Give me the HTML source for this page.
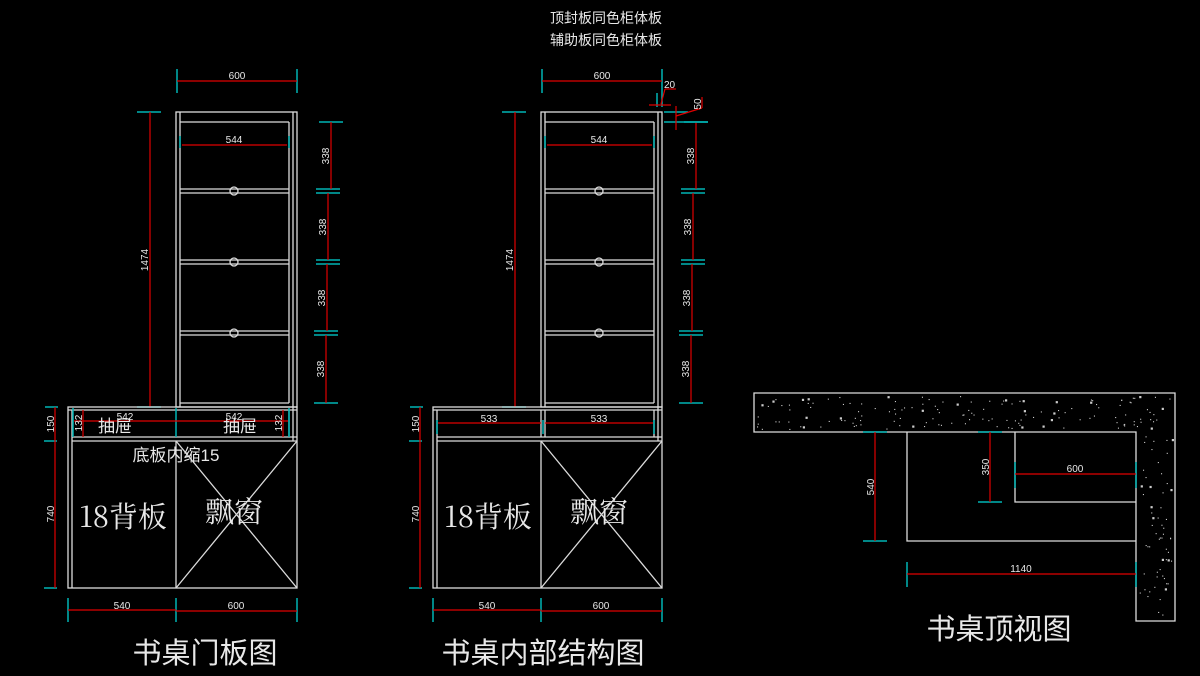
<!DOCTYPE html>
<html><head><meta charset="utf-8"><style>
html,body{margin:0;padding:0;background:#000;width:1200px;height:676px;overflow:hidden}
svg{display:block}
text{font-family:"Liberation Sans","Noto Sans CJK SC",sans-serif;fill:#e8e8e8}
.w{stroke:#dcdcdc;stroke-width:1.3;fill:none}
.r{stroke:#e00000;stroke-width:1.2;fill:none}
.c{stroke:#00b4b4;stroke-width:1.5;fill:none}
.d{font-size:10px}
.cj{font-family:"Noto Serif CJK SC","Liberation Serif",serif}
</style></head><body>
<svg id="s" width="1200" height="676" viewBox="0 0 1200 676" xmlns="http://www.w3.org/2000/svg">
<defs>
<g id="upper">
 <line class="c" x1="177" y1="69" x2="177" y2="93"/><line class="c" x1="297" y1="69" x2="297" y2="93"/>
 <line class="r" x1="177" y1="81" x2="297" y2="81"/>
 <text class="d" x="237" y="79" text-anchor="middle">600</text>
 <rect class="w" x="176" y="112" width="121" height="295"/>
 <line class="w" x1="180" y1="112" x2="180" y2="407"/>
 <line class="w" x1="289" y1="122" x2="289" y2="403"/>
 <line class="w" x1="293" y1="112" x2="293" y2="407"/>
 <line class="w" x1="180" y1="122" x2="289" y2="122"/>
 <line class="w" x1="180" y1="189" x2="289" y2="189"/><line class="w" x1="180" y1="193" x2="289" y2="193"/>
 <line class="w" x1="180" y1="260" x2="289" y2="260"/><line class="w" x1="180" y1="264" x2="289" y2="264"/>
 <line class="w" x1="180" y1="331" x2="289" y2="331"/><line class="w" x1="180" y1="335" x2="289" y2="335"/>
 <line class="w" x1="180" y1="403" x2="289" y2="403"/>
 <circle class="w" cx="234" cy="191" r="4"/><circle class="w" cx="234" cy="262" r="4"/><circle class="w" cx="234" cy="333" r="4"/>
 <line class="c" x1="180" y1="136" x2="180" y2="148"/><line class="c" x1="289" y1="136" x2="289" y2="148"/>
 <line class="r" x1="182" y1="145" x2="287" y2="145"/>
 <text class="d" x="234" y="143" text-anchor="middle">544</text>
 <line class="c" x1="137" y1="112" x2="161" y2="112"/><line class="c" x1="137" y1="407" x2="161" y2="407"/>
 <line class="r" x1="150" y1="112" x2="150" y2="407"/>
 <text class="d" transform="translate(148,260) rotate(-90)" text-anchor="middle">1474</text>
 <line class="c" x1="319" y1="122" x2="343" y2="122"/>
 <line class="c" x1="316" y1="189" x2="340" y2="189"/><line class="c" x1="316" y1="193" x2="340" y2="193"/>
 <line class="c" x1="316" y1="260" x2="340" y2="260"/><line class="c" x1="316" y1="264" x2="340" y2="264"/>
 <line class="c" x1="314" y1="331" x2="338" y2="331"/><line class="c" x1="314" y1="335" x2="338" y2="335"/>
 <line class="c" x1="314" y1="403" x2="338" y2="403"/>
 <line class="r" x1="331" y1="122" x2="331" y2="189"/>
 <line class="r" x1="328" y1="193" x2="328" y2="260"/>
 <line class="r" x1="327" y1="264" x2="327" y2="331"/>
 <line class="r" x1="326" y1="335" x2="326" y2="403"/>
 <text class="d" transform="translate(329,156) rotate(-90)" text-anchor="middle">338</text>
 <text class="d" transform="translate(326,227) rotate(-90)" text-anchor="middle">338</text>
 <text class="d" transform="translate(325,298) rotate(-90)" text-anchor="middle">338</text>
 <text class="d" transform="translate(324,369) rotate(-90)" text-anchor="middle">338</text>
</g>
<g id="lower">
 <rect class="w" x="68" y="407" width="229" height="181"/>
 <line class="w" x1="68" y1="410" x2="297" y2="410"/>
 <line class="w" x1="72" y1="410" x2="72" y2="588"/>
 <line class="w" x1="72" y1="437" x2="297" y2="437"/>
 <line class="w" x1="72" y1="441" x2="297" y2="441"/>
 <line class="w" x1="176" y1="441" x2="176" y2="588"/>
 <line class="w" x1="176" y1="441" x2="297" y2="588"/><line class="w" x1="297" y1="441" x2="176" y2="588"/>
 <line class="w" x1="289" y1="410" x2="289" y2="437"/><line class="w" x1="293" y1="407" x2="293" y2="441"/>
 <line class="c" x1="45" y1="407" x2="58" y2="407"/><line class="c" x1="44" y1="441" x2="57" y2="441"/><line class="c" x1="44" y1="588" x2="57" y2="588"/>
 <line class="r" x1="55" y1="407" x2="55" y2="441"/><line class="r" x1="55" y1="441" x2="55" y2="588"/>
 <text class="d" transform="translate(54,424) rotate(-90)" text-anchor="middle">150</text>
 <text class="d" transform="translate(54,514) rotate(-90)" text-anchor="middle">740</text>
 <line class="c" x1="68" y1="598" x2="68" y2="622"/><line class="c" x1="176" y1="598" x2="176" y2="622"/><line class="c" x1="297" y1="598" x2="297" y2="622"/>
 <line class="r" x1="68" y1="610" x2="176" y2="610"/><line class="r" x1="176" y1="611" x2="297" y2="611"/>
 <text class="d" x="122" y="609" text-anchor="middle">540</text>
 <text class="d" x="236" y="609" text-anchor="middle">600</text>
 <text class="cj" x="123" y="527" font-size="29" text-anchor="middle">18背板</text>
 <text class="cj" x="234" y="522" font-size="29" text-anchor="middle">飘窗</text>
</g>
</defs>

<use href="#upper"/>
<use href="#lower"/>
<line class="c" x1="73" y1="408" x2="73" y2="437"/><line class="c" x1="176" y1="408" x2="176" y2="437"/><line class="c" x1="289" y1="408" x2="289" y2="437"/>
<line class="r" x1="74" y1="421" x2="176" y2="421"/><line class="r" x1="176" y1="421" x2="288" y2="421"/>
<line class="r" x1="83" y1="410" x2="83" y2="437"/><line class="r" x1="283" y1="410" x2="283" y2="437"/>
<text class="d" x="125" y="420" text-anchor="middle">542</text>
<text class="d" x="234" y="420" text-anchor="middle">542</text>
<text class="d" transform="translate(82,423) rotate(-90)" text-anchor="middle">132</text>
<text class="d" transform="translate(282,423) rotate(-90)" text-anchor="middle">132</text>
<text x="115" y="432" font-size="17" text-anchor="middle">抽屉</text>
<text x="240" y="432" font-size="17" text-anchor="middle">抽屉</text>
<text x="176" y="461" font-size="17" text-anchor="middle">底板内缩15</text>
<text x="205" y="663" font-size="29" text-anchor="middle">书桌门板图</text>

<g transform="translate(365,0)">
<use href="#upper"/>
<use href="#lower"/>
<line class="w" x1="176" y1="410" x2="176" y2="437"/><line class="w" x1="180" y1="410" x2="180" y2="437"/>
<line class="c" x1="72" y1="420" x2="72" y2="434"/><line class="c" x1="178" y1="420" x2="178" y2="434"/><line class="c" x1="289" y1="420" x2="289" y2="434"/>
<line class="r" x1="73" y1="423" x2="176" y2="423"/><line class="r" x1="180" y1="423" x2="288" y2="423"/>
<text class="d" x="124" y="422" text-anchor="middle">533</text>
<text class="d" x="234" y="422" text-anchor="middle">533</text>
<line class="c" x1="292" y1="93" x2="292" y2="107"/><line class="c" x1="297" y1="93" x2="297" y2="107"/>
<line class="r" x1="284" y1="105" x2="306" y2="105"/>
<line class="r" x1="296" y1="104" x2="300" y2="89"/><line class="r" x1="300" y1="89" x2="311" y2="89"/>
<text class="d" x="299" y="88">20</text>
<line class="c" x1="299" y1="112" x2="323" y2="112"/><line class="c" x1="299" y1="122" x2="343" y2="122"/>
<line class="r" x1="311" y1="106" x2="311" y2="130"/>
<line class="r" x1="311" y1="116" x2="337" y2="108"/><line class="r" x1="337" y1="108" x2="337" y2="97"/>
<text class="d" transform="translate(336,104) rotate(-90)" text-anchor="middle">50</text>
</g>
<text x="606" y="23" font-size="14" text-anchor="middle">顶封板同色柜体板</text>
<text x="606" y="45" font-size="14" text-anchor="middle">辅助板同色柜体板</text>
<text x="543" y="663" font-size="29" text-anchor="middle">书桌内部结构图</text>

<path class="w" d="M754 393 H1175 V621 H1136 V432 H754 Z"/>
<g id="dots"></g>
<path class="w" d="M907 432 V541 H1136"/>
<path class="w" d="M1015 432 V502 H1136"/>
<line class="c" x1="863" y1="432" x2="887" y2="432"/><line class="c" x1="863" y1="541" x2="887" y2="541"/>
<line class="r" x1="875" y1="432" x2="875" y2="541"/>
<text class="d" transform="translate(874,487) rotate(-90)" text-anchor="middle">540</text>
<line class="c" x1="978" y1="432" x2="1002" y2="432"/><line class="c" x1="978" y1="502" x2="1002" y2="502"/>
<line class="r" x1="990" y1="432" x2="990" y2="502"/>
<text class="d" transform="translate(989,467) rotate(-90)" text-anchor="middle">350</text>
<line class="c" x1="1015" y1="462" x2="1015" y2="488"/><line class="c" x1="1136" y1="462" x2="1136" y2="488"/>
<line class="r" x1="1015" y1="474" x2="1136" y2="474"/>
<text class="d" x="1075" y="472" text-anchor="middle">600</text>
<line class="c" x1="907" y1="562" x2="907" y2="587"/><line class="c" x1="1136" y1="562" x2="1136" y2="587"/>
<line class="r" x1="907" y1="574" x2="1136" y2="574"/>
<text class="d" x="1021" y="572" text-anchor="middle">1140</text>
<text x="999" y="639" font-size="29" text-anchor="middle">书桌顶视图</text>
</svg>
<script>
(function(){
var g=document.getElementById('dots'),ns='http://www.w3.org/2000/svg',seed=7;
function rnd(){seed=(seed*16807)%2147483647;return seed/2147483647;}
function add(x0,y0,w,h,n){for(var i=0;i<n;i++){var x=x0+rnd()*w,y=y0+rnd()*h;
var c=document.createElementNS(ns,'rect');c.setAttribute('x',x.toFixed(1));c.setAttribute('y',y.toFixed(1));
var s=rnd()<0.15?2.2:1.1;c.setAttribute('width',s);c.setAttribute('height',s);c.setAttribute('fill','#ccc');g.appendChild(c);}}
add(757,396,415,33,150);add(1139,432,33,186,60);
})();
</script>
</body></html>
